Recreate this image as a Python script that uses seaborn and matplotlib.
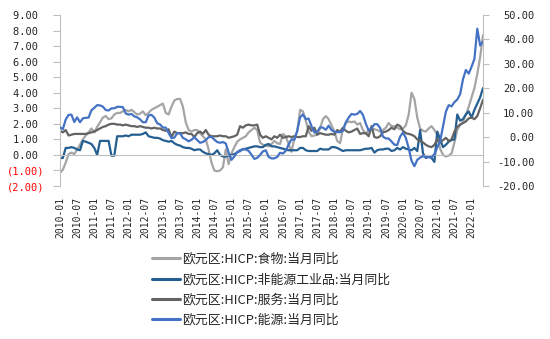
import numpy as np
import pandas as pd
import matplotlib
matplotlib.use("Agg")
import matplotlib.pyplot as plt
from matplotlib.lines import Line2D
import seaborn as sns

# Monthly observations, 2010-01 .. 2022-05
months = pd.period_range("2010-01", "2022-05", freq="M")

food = [
    -1.15, -0.95, -0.5, 0.05, 0.15, 0.05, 0.35, 0.65, 1.0, 1.25, 1.45, 1.7,
    1.45, 1.8, 2.1, 2.4, 2.5, 2.3, 2.35, 2.6, 2.7, 2.7, 2.8, 2.9,
    2.8, 2.9, 2.75, 2.6, 2.65, 2.8, 2.55, 2.7, 2.9, 3.0, 3.1, 3.2,
    3.3, 2.7, 2.6, 3.1, 3.5, 3.6, 3.6, 3.1, 2.1, 1.6, 1.5, 1.6,
    1.6, 1.4, 1.2, 1.0, 0.35, -0.5, -1.0, -1.05, -1.0, -0.8, 0.35, -0.6,
    0.1, 0.5, 0.85, 1.0, 1.1, 1.2, 1.45, 1.6, 1.75, 1.6, 0.8, 0.65,
    0.6, 0.55, 0.7, 0.9, 0.75, 0.7, 1.35, 1.2, 0.7, 0.2, 1.1, 1.5,
    2.9, 2.8, 2.2, 1.5, 1.2, 1.25, 1.3, 1.7, 2.3, 2.5, 2.3, 1.9,
    1.5, 0.9, 0.75, 1.7, 2.05, 2.15, 2.1, 2.15, 1.95, 2.05, 1.6, 1.35,
    1.6, 1.65, 1.65, 1.6, 1.5, 1.6, 1.75, 2.05, 1.85, 1.85, 1.75, 1.65,
    1.7, 1.9, 2.6, 4.0, 3.6, 2.4, 1.7, 1.55, 1.5, 1.7, 1.85, 1.6,
    1.3, 0.4, 0.0, -0.1, -0.05, 0.1, 0.8, 1.6, 1.95, 2.1, 2.6, 3.1,
    3.7, 4.3, 5.2, 6.3, 7.7,
]

neig = [
    -0.2, -0.2, 0.45, 0.45, 0.5, 0.45, 0.35, 0.3, 0.9, 0.85, 0.78, 0.7,
    0.45, 0.0, 0.9, 0.9, 0.9, 0.9, -0.05, -0.05, 1.2, 1.2, 1.2, 1.25,
    1.2, 1.3, 1.3, 1.3, 1.3, 1.35, 1.45, 1.2, 1.15, 1.1, 1.1, 1.05,
    0.95, 0.9, 0.85, 0.9, 0.75, 0.65, 0.6, 0.5, 0.45, 0.45, 0.4, 0.3,
    0.35, 0.35, 0.2, 0.1, 0.05, 0.0, 0.1, 0.3, 0.0, -0.1, -0.1, -0.05,
    0.0, 0.05, 0.15, 0.3, 0.35, 0.4, 0.45, 0.5, 0.55, 0.55, 0.5, 0.5,
    0.65, 0.7, 0.55, 0.55, 0.5, 0.45, 0.4, 0.35, 0.3, 0.3, 0.3, 0.3,
    0.45, 0.45, 0.3, 0.25, 0.25, 0.25, 0.25, 0.4, 0.35, 0.35, 0.35, 0.5,
    0.5, 0.45, 0.35, 0.25, 0.3, 0.3, 0.3, 0.3, 0.3, 0.3, 0.35, 0.4,
    0.4, 0.45, 0.15, 0.3, 0.35, 0.35, 0.4, 0.4, 0.25, 0.3, 0.45, 0.35,
    0.5, 0.4, 0.35, 0.3, 0.45, 0.25, 1.6, 0.1, -0.2, -0.1, -0.2, -0.45,
    1.5, 1.0, 0.5, 0.65, 0.85, 0.95, 1.0, 2.6, 2.2, 2.3, 2.6, 2.8,
    2.4, 2.9, 3.3, 3.7, 4.3,
]

services = [
    1.55, 1.45, 1.6, 1.25, 1.3, 1.35, 1.35, 1.35, 1.35, 1.35, 1.4, 1.45,
    1.5, 1.6, 1.7, 1.8, 1.85, 1.95, 2.0, 2.0, 1.95, 1.95, 1.9, 1.95,
    1.9, 1.85, 1.85, 1.8, 1.85, 1.8, 1.75, 1.75, 1.7, 1.75, 1.7, 1.7,
    1.6, 1.55, 1.65, 1.15, 1.5, 1.4, 1.4, 1.4, 1.45, 1.35, 1.35, 1.15,
    1.4, 1.5, 1.36, 1.6, 1.3, 1.2, 1.2, 1.2, 1.25, 1.2, 1.2, 1.1,
    1.15, 1.2, 1.3, 1.85, 1.75, 1.9, 1.95, 1.9, 1.9, 1.95, 1.3, 1.1,
    1.2, 1.1, 1.0, 1.2, 1.1, 1.3, 1.1, 1.15, 1.2, 1.15, 1.2, 1.15,
    1.15, 1.2, 1.2, 1.85, 1.55, 1.75, 1.3, 1.4, 1.35, 1.3, 1.3, 1.35,
    1.3, 1.6, 1.5, 1.75, 1.55, 1.45, 1.5, 1.6, 1.7, 1.35, 1.4, 1.4,
    1.2, 1.85, 1.15, 1.1, 1.2, 1.45, 1.5, 1.6, 1.75, 1.65, 1.95, 1.85,
    1.55, 1.4, 1.35, 1.3, 1.2, 1.0, 0.9, 0.8, 0.65, 0.55, 0.5, 0.65,
    1.0, 0.8, 0.95, 1.1, 0.9, 1.0, 1.5, 1.8, 1.95, 2.05, 2.15, 2.35,
    2.4, 2.3, 2.5, 3.0, 3.55,
]

energy = [
    4.0, 3.3, 7.2, 9.1, 9.2, 6.2, 8.1, 6.1, 7.7, 7.9, 8.0, 11.0,
    12.0, 13.1, 13.0, 12.5, 11.1, 10.9, 11.8, 11.8, 12.4, 12.4, 12.3, 9.7,
    9.2, 9.5, 8.5, 8.1, 7.3, 6.1, 6.1, 8.9, 9.1, 8.0, 5.7, 5.2,
    3.9, 3.9, 1.7, -0.4, -0.2, 1.6, 1.6, -0.3, -0.9, -1.7, -1.1, 0.0,
    -1.2, -2.3, -2.0, -1.2, 0.0, 0.1, -1.0, -2.0, -2.3, -2.0, -2.6, -6.3,
    -9.3, -7.9, -6.0, -5.8, -4.8, -5.1, -5.6, -7.2, -8.9, -8.5, -7.3, -5.8,
    -5.4, -8.1, -8.7, -8.7, -8.1, -6.4, -6.7, -5.6, -3.0, -0.9, -1.1, 2.6,
    8.1, 9.3, 7.4, 7.6, 4.5, 1.9, 2.2, 4.0, 3.9, 3.0, 4.7, 2.9,
    2.2, 2.1, 2.0, 2.6, 6.1, 8.0, 9.5, 9.2, 9.5, 10.7, 9.1, 5.5,
    2.7, 3.6, 5.3, 5.3, 3.8, 0.2, -0.5, -0.6, -1.8, -3.1, -3.2, 0.2,
    1.9, -0.3, -4.5, -9.7, -11.9, -9.3, -8.4, -7.8, -8.2, -8.2, -8.3, -6.9,
    -4.2, -1.7, 4.3, 10.4, 13.1, 12.6, 14.3, 15.4, 17.6, 23.7, 27.5, 26.0,
    28.8, 32.0, 44.4, 37.5, 39.1,
]

series_names = [
    "欧元区:HICP:食物:当月同比",
    "欧元区:HICP:非能源工业品:当月同比",
    "欧元区:HICP:服务:当月同比",
    "欧元区:HICP:能源:当月同比",
]
colors = ["#A5A5A5", "#255E91", "#636363", "#4472C4"]

left_ticks = list(range(-2, 10))
right_ticks = list(range(-20, 51, 10))

df = pd.DataFrame({
    "t": np.arange(len(months)),
    "food": food,
    "neig": neig,
    "services": services,
    "energy": energy,
})

sns.set_style("white")
plt.rcParams["font.family"] = ["Noto Sans CJK SC", "DejaVu Sans"]
mono = "DejaVu Sans Mono"
axis_grey = "#BFBFBF"

W, H = 550, 339
fig = plt.figure(figsize=(W / 100, H / 100), dpi=100)
ax = fig.add_axes([60 / W, 1 - 186 / H, (483 - 60) / W, (186 - 15) / H])
ax2 = ax.twinx()

lw = 1.6
for col, c in zip(["food", "neig", "services"], colors[:3]):
    sns.lineplot(data=df, x="t", y=col, ax=ax, color=c, lw=lw, legend=False)
sns.lineplot(data=df, x="t", y="energy", ax=ax2, color=colors[3], lw=lw, legend=False)

# x axis: line through zero, labels at the bottom
ax.set_xlim(0, len(months) - 1)
xt = list(range(0, len(months), 6))
ax.set_xticks(xt, labels=[months[i].strftime("%Y-%m") for i in xt])
ax.spines["bottom"].set_position(("data", 0))
ax.spines["bottom"].set_color(axis_grey)
ax.tick_params(axis="x", direction="out", length=4, width=0.8, color=axis_grey,
               pad=26, labelrotation=90, labelsize=7)
for lbl in ax.get_xticklabels():
    lbl.set_fontfamily(mono)

# left axis
ax.set_ylim(-2, 9)
ax.set_yticks(left_ticks, labels=[f"{v:.2f} " if v >= 0 else f"({abs(v):.2f})"
                                  for v in left_ticks])
ax.tick_params(axis="y", direction="out", length=5, width=0.8, color=axis_grey,
               pad=6, labelsize=7.5)
for lbl in ax.get_yticklabels():
    lbl.set_fontfamily(mono)
    if lbl.get_text().startswith("("):
        lbl.set_color("#FF0000")
ax.spines["left"].set_color(axis_grey)
for s in ["top", "right"]:
    ax.spines[s].set_visible(False)

# right axis
ax2.set_ylim(-20, 50)
ax2.set_yticks(right_ticks, labels=[f"{v:.2f}" for v in right_ticks])
ax2.tick_params(axis="y", direction="out", length=4, width=0.8, color=axis_grey,
                pad=33, labelsize=7.5)
for lbl in ax2.get_yticklabels():
    lbl.set_fontfamily(mono)
    lbl.set_horizontalalignment("right")
ax2.spines["right"].set_color(axis_grey)
for s in ["top", "left", "bottom"]:
    ax2.spines[s].set_visible(False)
ax.set_xlabel("")
ax.set_ylabel("")
ax2.set_ylabel("")

handles = [Line2D([], [], color=c, lw=2.2) for c in colors]
fig.legend(handles, series_names, loc="upper left",
           bbox_to_anchor=(152 / W, 1 - 253 / H), frameon=False,
           fontsize=9.3, handlelength=2.2, handletextpad=0.1,
           labelspacing=0.55, borderpad=0, borderaxespad=0)

fig.savefig("out.png", dpi=100)
